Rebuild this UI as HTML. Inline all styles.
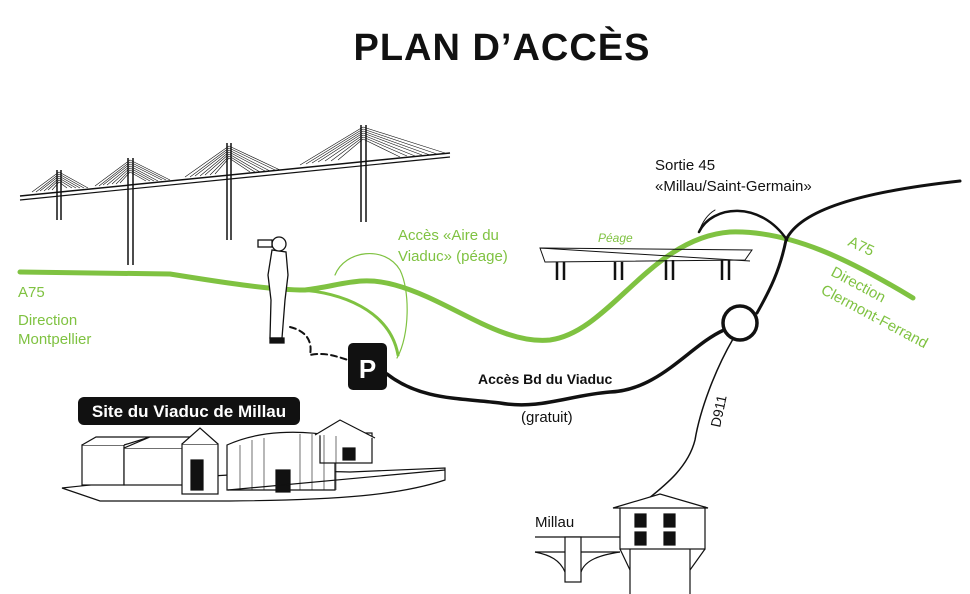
<!DOCTYPE html>
<html><head><meta charset="utf-8"><style>
html,body{margin:0;padding:0;background:#fff;}
svg{display:block;font-family:"Liberation Sans",sans-serif;}
</style></head><body>
<svg width="970" height="594" viewBox="0 0 970 594" xmlns="http://www.w3.org/2000/svg">
<text x="502" y="60" text-anchor="middle" font-size="38" font-weight="bold" letter-spacing="1" fill="#111">PLAN D’ACCÈS</text>

<!-- viaduct -->
<g stroke="#111" fill="none">
<line x1="20" y1="196" x2="450" y2="153" stroke-width="1.5"/>
<line x1="20" y1="200" x2="450" y2="157" stroke-width="1.2"/>
<g stroke-width="1.5">
<path d="M57 170 V220 M61 170 V220"/>
<path d="M128 158 V265 M133 158 V265"/>
<path d="M227 143 V240 M231 143 V240"/>
<path d="M361 125 V222 M366 125 V222"/>
</g>
<g stroke-width="0.6">
<path d="M59 172 L32 192 M59 174 L36 192 M59 176 L40 191 M59 178 L44 191 M59 180 L48 190 M59 182 L52 190 M59 172 L88 188 M59 174 L84 188 M59 176 L80 188 M59 178 L76 188 M59 180 L72 188 M59 182 L67 188"/>
<path d="M130 160 L95 186 M130 162 L99 186 M130 164 L103 185 M130 166 L107 185 M130 168 L112 184 M130 170 L116 184 M130 172 L120 183 M130 160 L170 180 M130 162 L166 180 M130 164 L162 180 M130 166 L158 181 M130 168 L154 181 M130 170 L150 181 M130 172 L146 181"/>
<path d="M229 146 L185 177 M229 148 L190 177 M229 150 L195 176 M229 152 L200 176 M229 154 L205 175 M229 156 L210 175 M229 158 L215 174 M229 146 L280 170 M229 148 L275 170 M229 150 L270 171 M229 152 L265 171 M229 154 L260 172 M229 156 L255 172 M229 158 L250 172"/>
<path d="M363 127 L300 165 M363 129 L306 164 M363 131 L312 163 M363 133 L318 162 M363 135 L325 161 M363 137 L331 161 M363 139 L338 160 M363 127 L445 153 M363 129 L437 154 M363 131 L430 155 M363 133 L422 155 M363 135 L415 156 M363 137 L407 156 M363 139 L400 157"/>
</g>
</g>

<!-- green roads -->
<g stroke="#7fc241" fill="none" stroke-linecap="round">
<path d="M20 272 L170 274 C220 282 270 290 305 290 C340 286 360 275 395 285 C450 300 500 345 550 340 C610 332 650 238 730 232 C790 230 850 260 913 298" stroke-width="5"/>
<path d="M300 290 C340 292 390 310 398 355" stroke-width="3"/>
<path d="M335 275 C345 250 385 245 400 270 C410 290 410 335 397 358" stroke-width="1.2"/>
</g>

<!-- black roads -->
<g stroke="#111" fill="none" stroke-linecap="round">
<path d="M387 374 C420 400 460 398 500 403 C540 410 570 395 610 392 C660 390 690 345 724 330" stroke-width="3.5"/>
<circle cx="740" cy="323" r="17" stroke-width="3.5"/>
<path d="M757 313 C770 290 780 270 786 240 C800 210 860 192 960 181" stroke-width="3"/>
<path d="M699 232 C712 205 760 200 787 240" stroke-width="2.5"/>
<path d="M699 232 C702 222 708 214 715 210" stroke-width="1"/>
<path d="M733 339 C715 370 700 410 695 440 C685 480 640 500 625 520" stroke-width="1.5"/>
<path d="M290 327 C310 332 312 345 310 355 C325 352 335 356 348 360" stroke-width="2" stroke-dasharray="6,4"/>
</g>

<!-- toll -->
<g stroke="#111" fill="none" stroke-width="1">
<path d="M540 248 L752 250 L745 260 L545 262 Z"/>
<path d="M540 248 L750 261"/>
<g stroke-width="2.5">
<path d="M557 262 V280 M564 262 V280 M615 262 V280 M622 262 V280 M666 260 V280 M673 260 V280 M722 260 V280 M729 260 V280"/>
</g>
</g>

<!-- person -->
<g stroke="#111" fill="#fff" stroke-width="1.3">
<path d="M272 250 L268 275 L271 300 L270 338 L282 338 L285 300 L288 275 L286 252 Z"/>
<circle cx="279" cy="244" r="7"/>
<rect x="258" y="240" width="14" height="7"/>
<path d="M270 338 h14 v5 h-14z" fill="#111"/>
</g>

<!-- P -->
<rect x="348" y="343" width="39" height="47" rx="5" fill="#111"/>
<text x="367.5" y="378" text-anchor="middle" font-size="26" font-weight="bold" fill="#fff">P</text>

<!-- site label -->
<rect x="78" y="397" width="222" height="28" rx="6" fill="#111"/>
<text x="189" y="417" text-anchor="middle" font-size="17" font-weight="bold" fill="#fff">Site du Viaduc de Millau</text>

<!-- building -->
<g stroke="#111" fill="#fff" stroke-width="1.2">
<path d="M62 488 C150 478 300 470 350 472 L445 468 L445 480 C400 495 340 500 230 501 L100 501 Z"/>
<rect x="82" y="445" width="42" height="40"/>
<path d="M82 445 L96 437 L150 437 L124 445"/>
<rect x="124" y="448" width="70" height="37"/>
<path d="M124 448 L150 437 L200 437 L194 448"/>
<rect x="182" y="444" width="36" height="50"/>
<path d="M182 444 L200 428 L218 444"/>
<rect x="191" y="460" width="12" height="30" fill="#111"/>
<path d="M227 445 C260 430 300 430 335 436 L335 490 L227 490 Z"/>
<rect x="276" y="470" width="14" height="22" fill="#111"/>
<rect x="320" y="433" width="52" height="30"/>
<path d="M315 435 L340 420 L375 438"/>
<rect x="343" y="448" width="12" height="12" fill="#111"/>
<path d="M228 490 L445 470"/>
</g>
<g stroke="#111" stroke-width="0.6"><path d="M240 445V490 M252 440V490 M264 438V490 M300 434V490 M312 434V490 M324 435V490 M336 436V490"/></g>

<!-- Millau house -->
<g stroke="#111" fill="#fff" stroke-width="1.2">
<path d="M535 537 H620 M535 552 H620"/>
<rect x="565" y="537" width="16" height="45"/>
<path d="M535 552 C550 555 560 560 565 572 M581 572 C585 560 600 555 620 552" fill="none"/>
<rect x="620" y="507" width="85" height="42"/>
<path d="M613 508 L660 494 L708 508 Z"/>
<rect x="635" y="514" width="11" height="13" fill="#111"/>
<rect x="664" y="514" width="11" height="13" fill="#111"/>
<rect x="635" y="532" width="11" height="13" fill="#111"/>
<rect x="664" y="532" width="11" height="13" fill="#111"/>
<path d="M630 549 V594 M690 549 V594" fill="none"/>
<path d="M620 549 L630 570 M705 549 L690 570" fill="none"/>
</g>

<!-- labels -->
<g font-size="15">
<text x="655" y="170" fill="#111">Sortie 45</text>
<text x="655" y="191" fill="#111">«Millau/Saint-Germain»</text>
<text x="398" y="240" fill="#7fc241">Accès «Aire du</text>
<text x="398" y="261" fill="#7fc241">Viaduc» (péage)</text>
<text x="18" y="297" fill="#7fc241">A75</text>
<text x="18" y="325" fill="#7fc241">Direction</text>
<text x="18" y="344" fill="#7fc241">Montpellier</text>
<text x="521" y="422" fill="#111">(gratuit)</text>
<text x="535" y="527" fill="#111">Millau</text>
<text x="478" y="384" fill="#111" font-size="14" font-weight="bold">Accès Bd du Viaduc</text>
<text x="847" y="245" fill="#7fc241" transform="rotate(25 847 245)">A75</text>
<text x="830" y="275" fill="#7fc241" transform="rotate(28 830 275)">Direction</text>
<text x="820" y="293" fill="#7fc241" transform="rotate(28 820 293)">Clermont-Ferrand</text>
<text x="598" y="242" fill="#7fc241" font-size="12" font-style="italic">Péage</text>
<text x="720" y="428" fill="#111" font-size="14" transform="rotate(-78 720 428)">D911</text>
</g>
</svg>
</body></html>
